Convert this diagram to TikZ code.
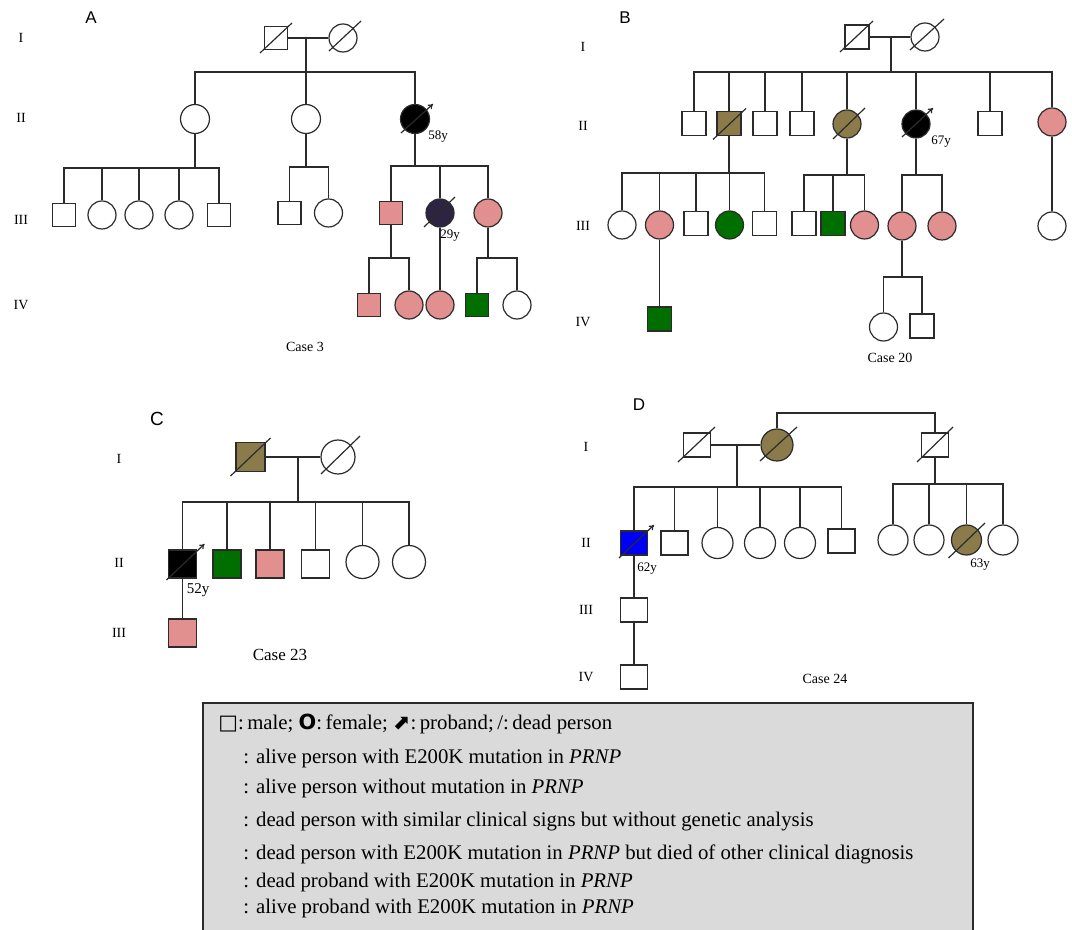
\documentclass[tikz,border=0pt]{standalone}
\usepackage{fontspec}
\setmainfont{Liberation Serif}
\newfontfamily\lsans{Liberation Sans}
\newfontfamily\djv{DejaVu Sans}
\usetikzlibrary{arrows.meta,calc}
\definecolor{lc}{HTML}{2B2B2B}
\definecolor{pinkc}{HTML}{E28F8F}
\definecolor{greenc}{HTML}{006F00}
\definecolor{olivec}{HTML}{8B7B4B}
\definecolor{purpc}{HTML}{2D2442}
\definecolor{bluec}{HTML}{0000F5}
\definecolor{legbg}{HTML}{DADADA}
\newcommand\deadx[5]{\draw[slash] ([shift={(#2,#3)}]#1.center) -- ([shift={(#4,#5)}]#1.center);}
\newcommand\probx[5]{\draw[prob] ([shift={(#2,#3)}]#1.center) -- ([shift={(#4,#5)}]#1.center);}
\begin{document}
\begin{tikzpicture}[x=0.5pt,y=-0.5pt,
  ln/.style={draw=lc,line width=0.6pt},
  male/.style={rectangle,draw=lc,line width=0.6pt,fill=white,minimum size=#1,inner sep=0pt},
  female/.style={circle,draw=lc,line width=0.6pt,fill=white,minimum size=#1,inner sep=0pt},
  pk/.style={fill=pinkc}, gr/.style={fill=greenc}, ol/.style={fill=olivec},
  bk/.style={fill=black}, pu/.style={fill=purpc}, bl/.style={fill=bluec},
  slash/.style={draw=lc,line width=0.6pt},
  prob/.style={draw=lc,line width=0.6pt,-{To[length=2.5pt,width=3pt]}},
  gen/.style={font=\fontsize{7}{8}\selectfont,inner sep=0pt},
  age/.style={font=\fontsize{6.5}{7}\selectfont,inner sep=0pt},
  case/.style={font=\fontsize{7}{8}\selectfont,inner sep=0pt},
  panel/.style={font=\lsans\fontsize{8.5}{9}\selectfont,inner sep=0pt},
  legt/.style={anchor=base west,inner sep=0pt,font=\fontsize{10.4}{12}\selectfont}
]
\fill[white] (0,0) rectangle (1072,930);
\useasboundingbox (0,0) rectangle (1072,930);

% ================= Panel A =================
\node[panel] (pA) at (91,18) {A};
\node[gen] (gA1) at (21,38) {I};
\node[gen] (gA2) at (21,118) {II};
\node[gen] (gA3) at (21,220) {III};
\node[gen] (gA4) at (21,305) {IV};
\node[male=11.5pt] (a1) at (276,38) {};
\node[female=14pt] (a2) at (343,38) {};
\coordinate (aM) at (306,38);
\coordinate (aP) at (306,72);
\node[female=14.5pt] (a21) at (195,119) {};
\node[female=14.5pt] (a22) at (306,119) {};
\node[female=14.5pt,bk] (a23) at (415,119) {};
\coordinate (aP21) at (195,168);
\node[male=11.5pt] (a31) at (64,215) {};
\node[female=14pt] (a32) at (102,215) {};
\node[female=14pt] (a33) at (139,215) {};
\node[female=14pt] (a34) at (179,215) {};
\node[male=11.5pt] (a35) at (219,215) {};
\coordinate (aP22) at (306,167);
\node[male=11.5pt] (a36) at (289.5,213) {};
\node[female=14pt] (a37) at (328.5,213) {};
\coordinate (aP23) at (415,166);
\node[male=11.5pt,pk] (a38) at (391,213) {};
\node[female=14pt,pu] (a39) at (440,213) {};
\node[female=14pt,pk] (a310) at (488,213) {};
\coordinate (aP38) at (391,258);
\node[male=11.5pt,pk] (a41) at (369,305) {};
\node[female=14pt,pk] (a42) at (409,305) {};
\node[female=14pt,pk] (a43) at (440,305) {};
\coordinate (aP310) at (488,258);
\node[male=11.5pt,gr] (a44) at (477,305) {};
\node[female=14pt] (a45) at (517,305) {};
\draw[ln] (a1.east) -- (a2.west);
\draw[ln] (aM) -- (aP);
\foreach \n in {a21,a22,a23} \draw[ln] (\n.north) |- (aP);
\draw[ln] (a21.south) -- (aP21);
\foreach \n in {a31,a32,a33,a34,a35} \draw[ln] (\n.north) |- (aP21);
\draw[ln] (a22.south) -- (aP22);
\foreach \n in {a36,a37} \draw[ln] (\n.north) |- (aP22);
\draw[ln] (a23.south) -- (aP23);
\foreach \n in {a38,a39,a310} \draw[ln] (\n.north) |- (aP23);
\draw[ln] (a38.south) -- (aP38);
\foreach \n in {a41,a42} \draw[ln] (\n.north) |- (aP38);
\draw[ln] (a39.south) -- (a43.north);
\draw[ln] (a310.south) -- (aP310);
\foreach \n in {a44,a45} \draw[ln] (\n.north) |- (aP310);
\deadx{a1}{-16}{15}{16}{-15}
\deadx{a2}{-14}{13}{18}{-17}
\deadx{a39}{-16}{14}{15}{-16}
\probx{a23}{-14}{14}{18}{-15}
\node[age] (ageA1) at (438,137) {58y};
\node[age] (ageA2) at (450,236) {29y};
\node[case] (caseA) at (305,347) {Case 3};

% ================= Panel B =================
\node[panel] (pB) at (625,18) {B};
\node[gen] (gB1) at (583,47) {I};
\node[gen] (gB2) at (583,126) {II};
\node[gen] (gB3) at (583,226) {III};
\node[gen] (gB4) at (583,322) {IV};
\node[male=12pt] (b1) at (857,37) {};
\node[female=14pt] (b2) at (925,37) {};
\coordinate (bM) at (891,37);
\coordinate (bP) at (891,72);
\node[male=12pt] (b21) at (694,123.5) {};
\node[male=12pt,ol] (b22) at (729,123.5) {};
\node[male=12pt] (b23) at (765,123.5) {};
\node[male=12pt] (b24) at (802,123.5) {};
\node[female=14pt,ol] (b25) at (847,124) {};
\node[female=14pt,bk] (b26) at (916,124) {};
\node[male=12pt] (b27) at (990,123.5) {};
\node[female=14pt,pk] (b28) at (1052,122) {};
\coordinate (bP22) at (729,173);
\node[female=14pt] (b31) at (622,225) {};
\node[female=14pt,pk] (b32) at (659.5,225) {};
\node[male=12pt] (b33) at (696,223.5) {};
\node[female=14pt,gr] (b34) at (729.5,225) {};
\node[male=12pt] (b35) at (764.5,223.5) {};
\coordinate (bP25) at (847,175);
\node[male=12pt] (b36) at (804,223.5) {};
\node[male=12pt,gr] (b37) at (833,223.5) {};
\node[female=14pt,pk] (b38) at (864.5,225) {};
\coordinate (bP26) at (916,175);
\node[female=14pt,pk] (b39) at (902,226) {};
\node[female=14pt,pk] (b310) at (942,226) {};
\node[female=14pt] (b311) at (1052,226) {};
\node[male=12pt,gr] (b41) at (659.5,319) {};
\coordinate (bP39) at (902,277);
\node[female=14pt] (b42) at (883.5,327) {};
\node[male=12pt] (b43) at (922,326) {};
\draw[ln] (b1.east) -- (b2.west);
\draw[ln] (bM) -- (bP);
\foreach \n in {b21,b22,b23,b24,b25,b26,b27,b28} \draw[ln] (\n.north) |- (bP);
\draw[ln] (b22.south) -- (bP22);
\foreach \n in {b31,b32,b33,b34,b35} \draw[ln] (\n.north) |- (bP22);
\draw[ln] (b25.south) -- (bP25);
\foreach \n in {b36,b37,b38} \draw[ln] (\n.north) |- (bP25);
\draw[ln] (b26.south) -- (bP26);
\foreach \n in {b39,b310} \draw[ln] (\n.north) |- (bP26);
\draw[ln] (b28.south) -- (b311.north);
\draw[ln] (b32.south) -- (b41.north);
\draw[ln] (b39.south) -- (bP39);
\foreach \n in {b42,b43} \draw[ln] (\n.north) |- (bP39);
\deadx{b1}{-17}{15}{16}{-16}
\deadx{b2}{-15}{13}{19}{-18}
\deadx{b22}{-16}{16}{17}{-15}
\deadx{b25}{-14}{15}{18}{-16}
\probx{b26}{-14}{13}{17}{-16}
\node[age] (ageB1) at (941,142) {67y};
\node[case] (caseB) at (890,358) {Case 20};

% ================= Panel C =================
\node[panel,font=\lsans\fontsize{9.5}{10}\selectfont] (pC) at (157,419) {C};
\node[gen] (gC1) at (119,459) {I};
\node[gen] (gC2) at (119,563) {II};
\node[gen] (gC3) at (119,633) {III};
\node[male=14.5pt,ol] (c1) at (250.5,457) {};
\node[female=17pt] (c2) at (338,457) {};
\coordinate (cM) at (298,457);
\coordinate (cP) at (298,502);
\node[male=14pt,bk] (c21) at (182.5,564) {};
\node[male=14pt,gr] (c22) at (227,564) {};
\node[male=14pt,pk] (c23) at (270,564) {};
\node[male=14pt] (c24) at (315.5,564) {};
\node[female=16.5pt] (c25) at (362.5,562) {};
\node[female=16.5pt] (c26) at (409,562) {};
\node[male=14pt,pk] (c31) at (182.5,633) {};
\draw[ln] (c1.east) -- (c2.west);
\draw[ln] (cM) -- (cP);
\foreach \n in {c21,c22,c23,c24,c25,c26} \draw[ln] (\n.north) |- (cP);
\draw[ln] (c21.south) -- (c31.north);
\deadx{c1}{-20}{19}{20}{-19}
\deadx{c2}{-17}{17}{22}{-21}
\probx{c21}{-16}{16}{22}{-20}
\node[age,font=\fontsize{7.5}{8}\selectfont] (ageC1) at (198,590) {52y};
\node[case,font=\fontsize{8.5}{9}\selectfont] (caseC) at (280,655) {Case 23};

% ================= Panel D =================
\node[panel] (pD) at (639,405) {D};
\node[gen] (gD1) at (586,447) {I};
\node[gen] (gD2) at (586,543) {II};
\node[gen] (gD3) at (586,610) {III};
\node[gen] (gD4) at (586,677) {IV};
\tikzset{dm/.style={male=12pt,minimum width=13.5pt}}
\node[dm] (d1) at (697,445) {};
\node[female=16pt,ol] (d2) at (777,445) {};
\node[dm] (d3) at (935,445) {};
\coordinate (dM) at (737,445);
\coordinate (dP) at (737,487);
\coordinate (dT) at (855,413);
\node[dm,bl] (d21) at (634,543) {};
\node[dm] (d22) at (674.5,543) {};
\node[female=15.5pt] (d23) at (717.5,543) {};
\node[female=15.5pt] (d24) at (760,543) {};
\node[female=15.5pt] (d25) at (800,543) {};
\node[dm] (d26) at (841.5,541) {};
\coordinate (dP3) at (935,484);
\node[female=15pt] (d27) at (893,540) {};
\node[female=15pt] (d28) at (929,540) {};
\node[female=15pt,ol] (d29) at (966.5,540) {};
\node[female=15pt] (d210) at (1003,540) {};
\node[dm] (d31) at (634,610) {};
\node[dm] (d41) at (634,677) {};
\draw[ln] (d1.east) -- (d2.west);
\draw[ln] (dM) -- (dP);
\draw[ln] (d2.north) |- (dT) -| (d3.north);
\foreach \n in {d21,d22,d23,d24,d25,d26} \draw[ln] (\n.north) |- (dP);
\draw[ln] (d3.south) -- (dP3);
\foreach \n in {d27,d28,d29,d210} \draw[ln] (\n.north) |- (dP3);
\draw[ln] (d21.south) -- (d31.north);
\draw[ln] (d31.south) -- (d41.north);
\deadx{d1}{-19}{17}{18}{-18}
\deadx{d2}{-17}{16}{20}{-18}
\deadx{d3}{-18}{17}{18}{-18}
\deadx{d29}{-18}{18}{18.5}{-17}
\probx{d21}{-15}{15}{20}{-18}
\node[age] (ageD1) at (647,569) {62y};
\node[age] (ageD2) at (980,565) {63y};
\node[case] (caseD) at (825,679) {Case 24};

% ================= Legend =================
\draw[draw=lc,line width=0.8pt,fill=legbg] (203,703) rectangle (973,936);
\node[legt] (l1) at (218,729) {{\djv □}:\,male; {\djv\bfseries O}:\,female; {\djv ⬈}:\,proband;\,/:\,dead person};
\node[legt] (l2) at (243,763) {: alive person with E200K mutation in \textit{PRNP}};
\node[legt] (l3) at (243,793) {: alive person without mutation in \textit{PRNP}};
\node[legt] (l4) at (243,827) {: dead person with similar clinical signs but without genetic analysis};
\node[legt] (l5) at (243,859) {: dead person with E200K mutation in \textit{PRNP} but died of other clinical diagnosis};
\node[legt] (l6) at (243,887) {: dead proband with E200K mutation in \textit{PRNP}};
\node[legt] (l7) at (243,913) {: alive proband with E200K mutation in \textit{PRNP}};
\end{tikzpicture}
\end{document}
